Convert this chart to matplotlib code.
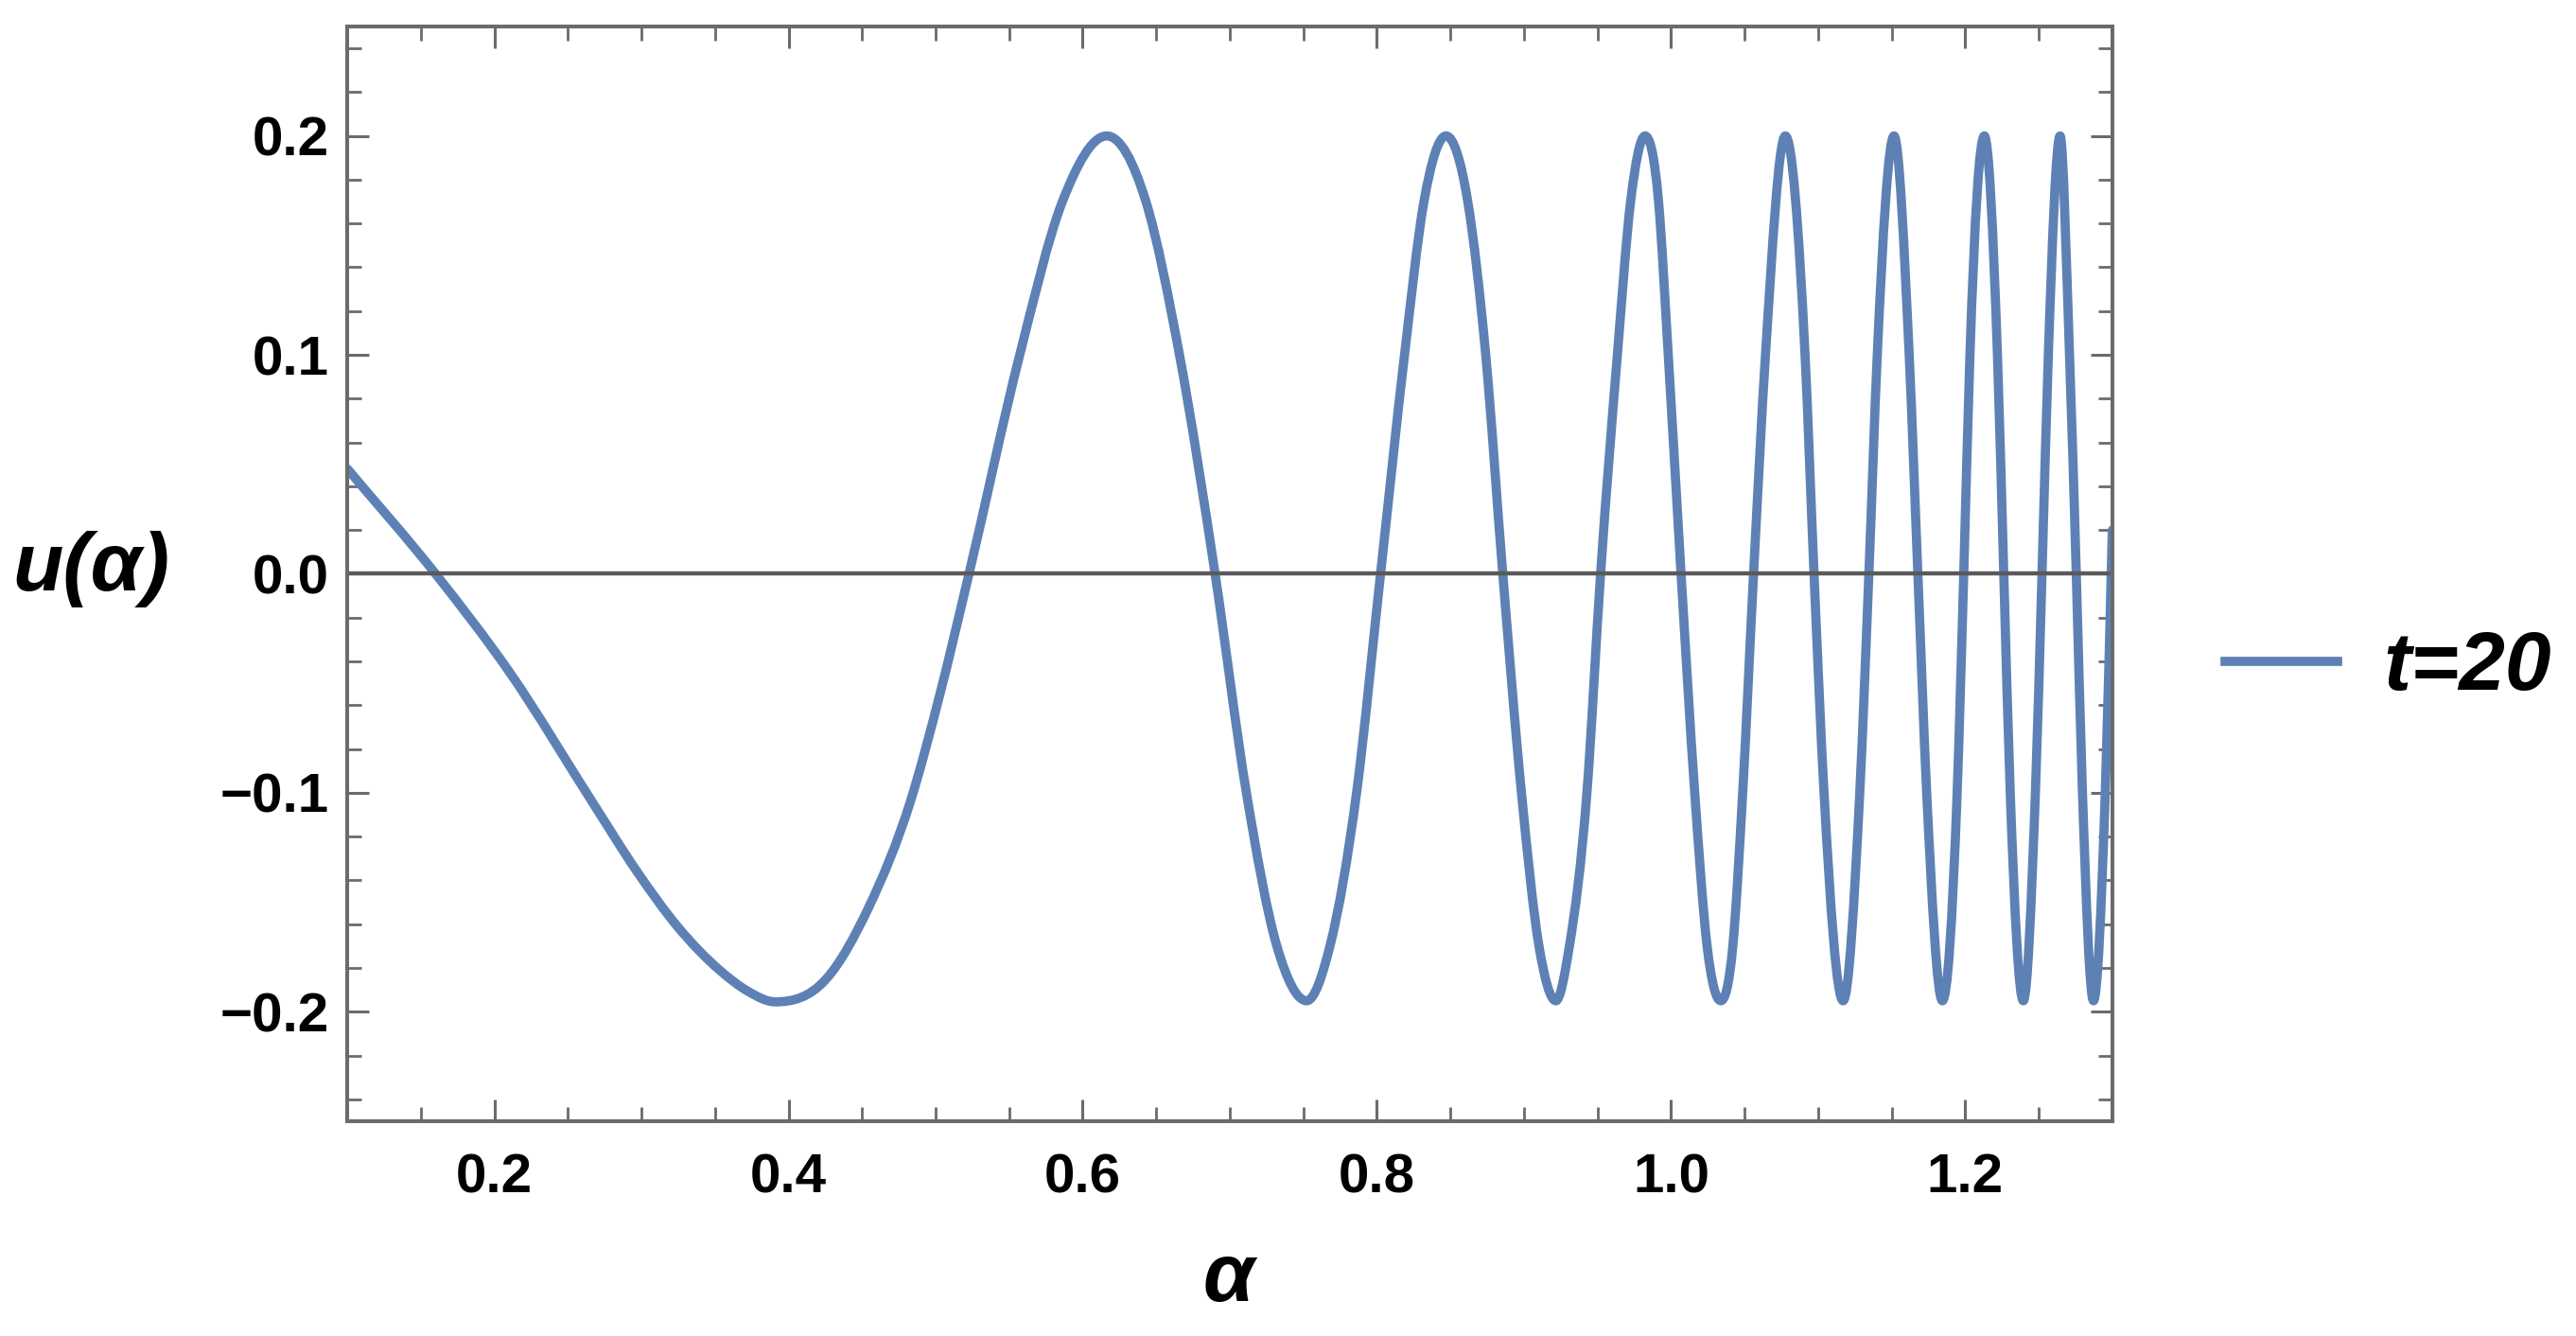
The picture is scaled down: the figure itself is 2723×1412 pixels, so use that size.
import numpy as np
import matplotlib
matplotlib.use("Agg")
import matplotlib.pyplot as plt
from matplotlib.path import Path
from matplotlib.patches import PathPatch
from matplotlib.lines import Line2D
from matplotlib.ticker import MultipleLocator, FuncFormatter

plt.rcParams['font.family'] = ['Liberation Sans', 'DejaVu Sans']

# points (alpha, u)
alpha = [0.100, 0.160, 0.2104, 0.2678, 0.2965, 0.325, 0.354, 0.372, 0.391, 0.4257, 0.4544, 0.483, 0.503,
         0.5227, 0.5572, 0.5862, 0.6164, 0.643, 0.6658,
         0.690, 0.7113, 0.732, 0.7523, 0.7681, 0.7862,
         0.8025, 0.8188, 0.8320, 0.847, 0.8618, 0.8740,
         0.8856, 0.8983, 0.9102, 0.9217, 0.9309, 0.9428,
         0.9521, 0.9635, 0.9725, 0.9823, 0.9915, 0.9981,
         1.0068, 1.0161, 1.0245, 1.0338, 1.0420, 1.0487,
         1.0561, 1.0642, 1.0777, 1.0911,
         1.0972, 1.1040, 1.1170, 1.1283,
         1.1345, 1.1402, 1.1516, 1.1619,
         1.1678, 1.1738, 1.1845, 1.1945,
         1.1990, 1.2032, 1.2130, 1.2219,
         1.2262, 1.2306, 1.2395, 1.2477,
         1.2522, 1.2565, 1.2645, 1.2709,
         1.2755, 1.2797, 1.2872, 1.2952, 1.3000]
u = [0.048, 0.0, -0.045, -0.1055, -0.1355, -0.1615, -0.1815, -0.1905, -0.1955, -0.185, -0.1525, -0.1037, -0.0548,
     0.0, 0.1, 0.17, 0.200, 0.17, 0.1,
     0.0, -0.1, -0.17, -0.195, -0.17, -0.1,
     0.0, 0.1, 0.17, 0.200, 0.17, 0.1,
     0.0, -0.1, -0.17, -0.195, -0.17, -0.1,
     0.0, 0.1, 0.17, 0.200, 0.17, 0.1,
     0.0, -0.1, -0.17, -0.195, -0.17, -0.1,
     0.0, 0.1, 0.200, 0.1,
     0.0, -0.1, -0.195, -0.1,
     0.0, 0.1, 0.200, 0.1,
     0.0, -0.1, -0.195, -0.1,
     0.0, 0.1, 0.200, 0.1,
     0.0, -0.1, -0.195, -0.1,
     0.0, 0.1, 0.200, 0.1,
     0.0, -0.1, -0.195, -0.1, 0.02]
legend_label = "t=20"

curve_color = '#5E81B5'
frame_color = '#6b6b6b'

fig = plt.figure(figsize=(27.23, 14.12), dpi=100)
ax = fig.add_axes([0.1348, 0.1608, 0.8200 - 0.1348, 0.9802 - 0.1608])

# smooth curve through the read points: cubic hermite segments as a bezier path
x = np.array(alpha)
y = np.array(u)
h = np.diff(x)
d = np.diff(y) / h
m = np.zeros_like(x)
m[0], m[-1] = d[0], d[-1]
for i in range(1, len(x) - 1):
    if d[i - 1] * d[i] > 0:
        m[i] = (d[i - 1] * h[i] + d[i] * h[i - 1]) / (h[i - 1] + h[i])
verts = [(x[0], y[0])]
codes = [Path.MOVETO]
for i in range(len(x) - 1):
    verts += [(x[i] + h[i] / 3, y[i] + m[i] * h[i] / 3),
              (x[i + 1] - h[i] / 3, y[i + 1] - m[i + 1] * h[i] / 3),
              (x[i + 1], y[i + 1])]
    codes += [Path.CURVE4] * 3
ax.add_patch(PathPatch(Path(verts, codes), facecolor='none', edgecolor=curve_color,
                       lw=7, capstyle='round', joinstyle='round', zorder=2))

ax.axhline(0, color='#5a5a5a', lw=3.2, zorder=3)

ax.set_xlim(0.1, 1.3)
ax.set_ylim(-0.25, 0.25)

ax.xaxis.set_major_locator(MultipleLocator(0.2))
ax.xaxis.set_minor_locator(MultipleLocator(0.05))
ax.yaxis.set_major_locator(MultipleLocator(0.1))
ax.yaxis.set_minor_locator(MultipleLocator(0.02))
fmt = FuncFormatter(lambda v, p: ('%.1f' % v).replace('-', '\u2212') if abs(v) > 1e-9 else '0.0')
ax.xaxis.set_major_formatter(fmt)
ax.yaxis.set_major_formatter(fmt)

for s in ax.spines.values():
    s.set_color(frame_color)
    s.set_linewidth(2.9)
    s.set_zorder(4)

ax.tick_params(which='both', direction='in', top=True, right=True, color=frame_color)
ax.tick_params(which='major', length=16.5, width=2.2)
ax.tick_params(which='minor', length=10.5, width=2.0)
ax.tick_params(axis='x', which='major', pad=24, labelsize=42)
ax.tick_params(axis='y', which='major', pad=14, labelsize=42)
for lab in ax.get_xticklabels() + ax.get_yticklabels():
    lab.set_fontweight('bold')

ax.set_xlabel('\u03b1', fontsize=63, fontweight='bold', fontstyle='italic')
ax.xaxis.set_label_coords(0.4995, -0.145)
ax.xaxis.label.set_va('center')
ax.set_ylabel('u(\u03b1)', fontsize=63, fontweight='bold', fontstyle='italic', rotation=0)
ax.yaxis.set_label_coords(-0.145, 0.504)
ax.yaxis.label.set_va('center')
ax.yaxis.label.set_ha('center')

handle = Line2D([], [], color=curve_color, lw=7)
fig.legend([handle], [legend_label], loc='center left', bbox_to_anchor=(0.8638, 0.4993),
           frameon=False, borderpad=0, borderaxespad=0, handlelength=1.36, handletextpad=0.55,
           prop={'size': 63, 'weight': 'bold', 'style': 'italic'})

fig.savefig('out.png', dpi=100)
